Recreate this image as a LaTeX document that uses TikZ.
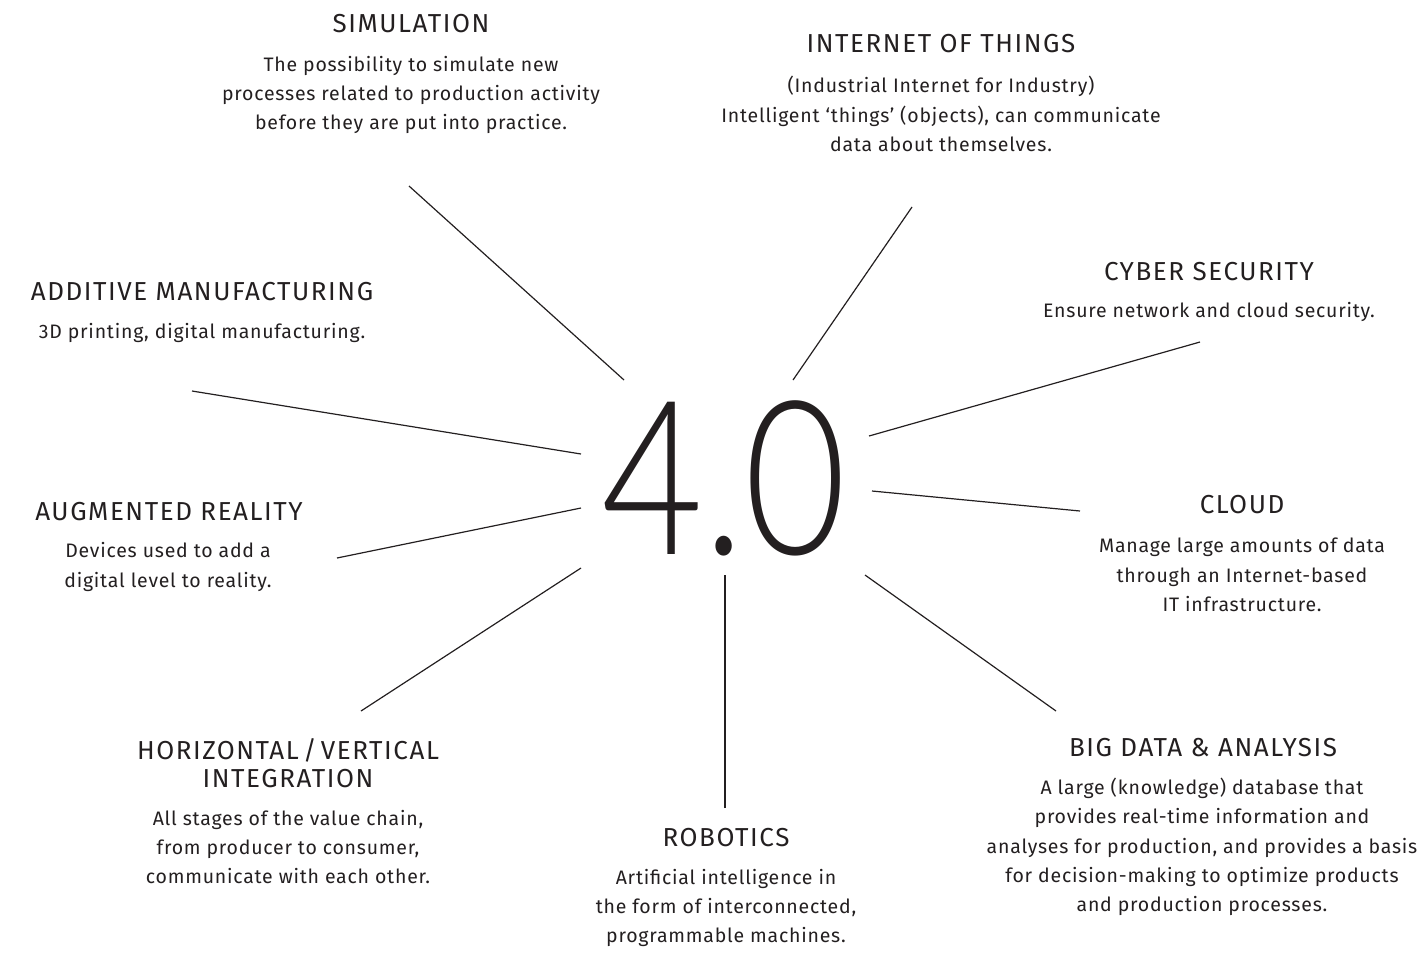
\documentclass[tikz,border=0pt]{standalone}
\usepackage{fontspec}
\setmainfont{Fira Sans}
\newfontfamily\headfont[LetterSpace=6]{Fira Sans}
\newfontfamily\bodyfont[LetterSpace=4]{Fira Sans}
\IfFontExistsTF{Lato Light}{\newfontfamily\bigfont{Lato Light}}{%
  \IfFontExistsTF{Open Sans Light}{\newfontfamily\bigfont{Open Sans Light}}{%
    \IfFontExistsTF{DejaVu Sans ExtraLight}{\newfontfamily\bigfont{DejaVu Sans ExtraLight}}{%
      \newfontfamily\bigfont{Fira Sans}}}}
\usepackage{xcolor}
\usetikzlibrary{positioning}
\definecolor{ink}{HTML}{231F20}

\begin{document}
\begin{tikzpicture}[
    x=1pt, y=-1pt,
    head/.style={text=ink, inner sep=0pt, align=center, font=\headfont\fontsize{26}{28}\selectfont},
    body/.style={text=ink, inner sep=0pt, align=center, font=\bodyfont\fontsize{19.5}{29.3}\selectfont},
    spoke/.style={draw=ink, line width=1.2pt}
]
\useasboundingbox (0,0) rectangle (1420,954);
% centre figure
\node[text=ink, inner sep=0pt, font=\bigfont\fontsize{215}{215}\selectfont, xscale=0.82] (core) at (724,478) {4.0};

% topics
\node[head] (sim) at (411,24) {SIMULATION};
\node[body] (simtxt) at (411,95) {The possibility to simulate new\\processes related to production activity\\before they are put into practice.};
\node[head] (iot) at (941,44) {INTERNET OF THINGS};
\node[body] (iottxt) at (941,114) {(Industrial Internet for Industry)\\Intelligent ‘things’ (objects), can communicate\\data about themselves.};
\node[head] (cyber) at (1209,272) {CYBER SECURITY};
\node[body] (cybertxt) at (1209,312) {Ensure network and cloud security.};
\node[head] (cloud) at (1242,505) {CLOUD};
\node[body] (cloudtxt) at (1242,575) {Manage large amounts of data\\through an Internet-based\\IT infrastructure.};
\node[head] (bigdata) at (1203,748) {BIG DATA \& ANALYSIS};
\node[body] (bigdatatxt) at (1202,847) {A large (knowledge) database that\\provides real-time information and\\analyses for production, and provides a basis\\for decision-making to optimize products\\and production processes.};
\node[head] (robot) at (726,838) {ROBOTICS};
\node[body] (robottxt) at (726,908) {Artificial intelligence in\\the form of interconnected,\\programmable machines.};
\node[head] (integ) at (288,763) {HORIZONTAL\,/\,VERTICAL\\INTEGRATION};
\node[body] (integtxt) at (288,847) {All stages of the value chain,\\from producer to consumer,\\communicate with each other.};
\node[head] (augm) at (169,512) {AUGMENTED REALITY};
\node[body] (augmtxt) at (168,567) {Devices used to add a\\digital level to reality.};
\node[head] (addit) at (202,292) {ADDITIVE MANUFACTURING};
\node[body] (addittxt) at (202,333) {3D printing, digital manufacturing.};

% spoke ends
\coordinate (s1) at (409,186); \coordinate (c1) at (624,380);
\coordinate (s2) at (912,207); \coordinate (c2) at (793,380);
\coordinate (s3) at (1200,342); \coordinate (c3) at (869,436);
\coordinate (s4) at (1080,511); \coordinate (c4) at (872,491);
\coordinate (s5) at (1056,711); \coordinate (c5) at (865,575);
\coordinate (s6) at (725,808); \coordinate (c6) at (725,575);
\coordinate (s7) at (361,711); \coordinate (c7) at (581,568);
\coordinate (s8) at (337,558); \coordinate (c8) at (581,508);
\coordinate (s9) at (192,391); \coordinate (c9) at (581,454);

\foreach \i in {1,...,9}
    \draw[spoke] (s\i) -- (c\i);
\end{tikzpicture}
\end{document}
